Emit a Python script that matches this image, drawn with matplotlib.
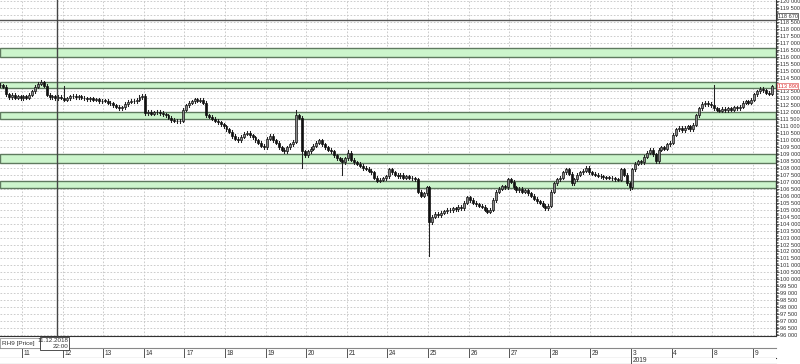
import matplotlib
matplotlib.use("Agg")
import matplotlib.pyplot as plt
from matplotlib.patches import Rectangle
from matplotlib.ticker import MultipleLocator, FuncFormatter

plt.rcParams["font.family"] = ["Liberation Sans", "DejaVu Sans"]

# sessions shown on the chart (10 Dec and 9 Jan are cut by the edges)
days = ["10", "11", "12", "13", "14", "17", "18", "19", "20", "21", "24",
        "25", "26", "27", "28", "29", "3", "4", "8", "9"]

# hourly closes of RH9
c10 = [113950, 113850, 113300, 113100, 113250, 113050, 113150, 113000]
c11 = [113150, 113050, 113250, 113500, 113850, 114050, 114150, 113900, 113250, 113100, 113150, 113000, 113100, 113050]
c12 = [112900, 113000, 113150, 113200, 113100, 113150, 113050, 113000, 112950, 113000, 112900, 112950, 112800, 112850]
c13 = [112850, 112700, 112650, 112500, 112400, 112300, 112350, 112600, 112750, 112850, 112800, 112900, 113100, 113200]
c14 = [111950, 112050, 111900, 112000, 112050, 111950, 111850, 111800, 111600, 111450, 111400, 111350, 111400, 112200]
c17 = [112500, 112700, 112800, 112950, 112850, 112900, 112700, 111800, 111700, 111550, 111400, 111300, 111150, 111000]
c18 = [110800, 110600, 110300, 110100, 110000, 110250, 110450, 110550, 110350, 110200, 110000, 109800, 109600, 109500]
c19 = [110100, 110300, 110000, 109800, 109500, 109300, 109200, 109500, 109700, 109900, 111800, 111600, 109200, 108900]
c20 = [109200, 109400, 109600, 109800, 110000, 109700, 109500, 109300, 109200, 108900, 108700, 108600, 108400, 108700]
c21 = [109100, 108600, 108400, 108300, 108150, 108000, 107950, 107800, 107700, 107300, 107100, 107150, 107250, 107400]
c24 = [107900, 107700, 107500, 107400, 107500, 107300, 107400, 107300, 107250, 107200, 106300, 106000, 106200, 106600]
c25 = [104100, 104500, 104700, 104600, 104800, 104900, 105000, 104950, 105100, 105050, 105200, 105100, 105500, 105900]
c26 = [105700, 105500, 105400, 105300, 105200, 105000, 104850, 105000, 105700, 106300, 106500, 106700, 106600, 107200]
c27 = [107000, 106600, 106400, 106500, 106300, 106400, 106200, 106000, 105800, 105600, 105500, 105300, 105100, 105300]
c28 = [106300, 106900, 107200, 107300, 107700, 107900, 107600, 106900, 107200, 107500, 107700, 107800, 108000, 107700]
c29 = [107600, 107500, 107450, 107400, 107350, 107300, 107300, 107250, 107200, 107150, 107900, 107500, 106900, 106600]
c03 = [107900, 108300, 108500, 108400, 108800, 109100, 109300, 109000, 108500, 109300, 109500, 109400, 109700, 109800]
c04 = [110400, 110800, 110900, 110700, 110900, 111000, 110800, 111100, 111800, 112300, 112600, 112700, 112600, 112500]
c08 = [112300, 112200, 112100, 112250, 112150, 112300, 112200, 112350, 112300, 112400, 112700, 112800, 112700, 112900]
c09 = [113300, 113500, 113700, 113600, 113400, 113350, 113890]
first_open = 114000

# long wicks (day, bar in day) -> (high, low), None = ordinary
spikes = {("11", 6): (114350, None), ("12", 0): (113900, None),
          ("19", 10): (112150, None), ("19", 12): (None, 108000),
          ("20", 12): (None, 107500), ("21", 0): (109300, None),
          ("25", 0): (None, 101700), ("29", 13): (None, 106400),
          ("8", 0): (113950, None)}

# support / resistance zones and a level line
zones = [(116000, 116600), (113750, 114200), (111550, 112050),
         (108350, 109000), (106550, 107050)]
level = 118670
last_price = 113890
hidden_labels = [119000, 114000]   # covered by the boxed price labels

closes = [c10, c11, c12, c13, c14, c17, c18, c19, c20, c21, c24,
          c25, c26, c27, c28, c29, c03, c04, c08, c09]

W, H = 800, 364
fig = plt.figure(figsize=(8, 3.64), dpi=100)
fig.patch.set_facecolor("white")

ax = fig.add_axes([0, 28 / H, 776 / W, 336 / H])
ax.set_xlim(0.41, 268.0)
ax.set_ylim(95928, 120072)

# grid
for p in range(96000, 120001, 500):
    ax.axhline(p, color="#c4c4c4", lw=0.6, ls=(0, (2, 2)), zorder=0)

starts = []
pos = 0
for d, cl in zip(days, closes):
    starts.append(pos)
    pos += len(cl)
for s in starts[1:]:
    ax.axvline(s, color="#c4c4c4", lw=0.6, ls=(0, (2, 2)), zorder=0)

for lo, hi in zones:
    ax.axhspan(lo, hi, facecolor="#ccf5cc", edgecolor="#5f7a5f", lw=1.0, zorder=1)
ax.axhline(level, color="#555555", lw=1.0, zorder=1)

# candles
prev = first_open
for d, s, cl in zip(days, starts, closes):
    for i, c in enumerate(cl):
        o = prev
        x = s + i + 0.5
        hi = max(o, c) + 110
        lo = min(o, c) - 110
        sp = spikes.get((d, i))
        if sp:
            if sp[0]:
                hi = sp[0]
            if sp[1]:
                lo = sp[1]
        ax.plot([x, x], [lo, hi], color="#222222", lw=0.75, zorder=3)
        body = max(abs(c - o), 50)
        fc = "#8a8a8a" if c > o else "#111111"
        ax.add_patch(Rectangle((x - 0.33, min(o, c)), 0.66, body, facecolor=fc,
                               edgecolor="#111111", lw=0.5, zorder=4))
        prev = c

# crosshair at 11.12.2018 22:00
ax.plot([20, 20], [120072, 95000], color="#444444", lw=1.0, zorder=5, clip_on=False)

# right price scale
def price_label(v, _):
    if int(round(v)) in hidden_labels:
        return ""
    return f"{int(round(v)):,}".replace(",", " ")

ax.yaxis.tick_right()
ax.yaxis.set_major_locator(MultipleLocator(500))
ax.yaxis.set_minor_locator(MultipleLocator(100))
ax.yaxis.set_major_formatter(FuncFormatter(price_label))
ax.tick_params(axis="y", which="major", length=2.5, width=0.6, labelsize=4.1,
               pad=0.6, colors="#333333")
ax.tick_params(axis="y", which="minor", length=1.3, width=0.5, colors="#333333")
ax.set_xticks([])
for sp_name in ["top", "left"]:
    ax.spines[sp_name].set_visible(False)
ax.spines["right"].set_color("#333333")
ax.spines["bottom"].set_color("#333333")
ax.spines["right"].set_linewidth(0.8)

ax.annotate(f"{last_price:,}".replace(",", " "), xy=(1.0, last_price),
            xycoords=("axes fraction", "data"), xytext=(1.2, 0),
            textcoords="offset points", fontsize=4.1, color="#e03030",
            va="center", ha="left", annotation_clip=False, zorder=10,
            bbox=dict(boxstyle="square,pad=0.1", fc="white", ec="#e06060", lw=0.5))
ax.annotate(f"{level:,}".replace(",", " "), xy=(1.0, level),
            xycoords=("axes fraction", "data"), xytext=(1.2, 2.5),
            textcoords="offset points", fontsize=4.1, color="#333333",
            va="center", ha="left", annotation_clip=False, zorder=10,
            bbox=dict(boxstyle="square,pad=0.1", fc="white", ec="#333333", lw=0.5))

# date row
dax = fig.add_axes([0, 6 / H, 776 / W, 10 / H])
dax.set_xlim(ax.get_xlim())
dax.set_ylim(0, 1)
dax.set_xticks([])
dax.set_yticks([])
for sp_name in ["left", "right"]:
    dax.spines[sp_name].set_visible(False)
dax.spines["top"].set_color("#888888")
dax.spines["bottom"].set_color("#333333")
for d, s in zip(days[1:], starts[1:]):
    dax.plot([s, s], [0, 1], color="#555555", lw=0.7)
    dax.text(s + 0.6, 0.45, d, fontsize=4.8, va="center", ha="left", color="#333333")

# year row
yax = fig.add_axes([0, 0.5 / H, 776 / W, 5.5 / H])
yax.set_xlim(ax.get_xlim())
yax.set_ylim(0, 1)
yax.set_xticks([])
yax.set_yticks([])
for sp_name in ["left", "right", "top"]:
    yax.spines[sp_name].set_visible(False)
yax.spines["bottom"].set_color("#333333")
jan3 = starts[days.index("3")]
yax.plot([jan3, jan3], [0, 1], color="#555555", lw=0.7)
yax.text(jan3 + 0.6, 0.5, "2019", fontsize=4.8, va="center", ha="left", color="#333333")

# instrument and crosshair label boxes
ov = fig.add_axes([0, 0, 1, 1], zorder=20)
ov.set_xlim(0, W)
ov.set_ylim(H, 0)
ov.axis("off")
ov.add_patch(Rectangle((0, 338), 40, 10, facecolor="white", edgecolor="#888888", lw=0.5))
ov.text(1.5, 343, "RH9 [Price]", fontsize=4.6, va="center", ha="left", color="#333333")
ov.add_patch(Rectangle((40, 336.5), 29, 13, facecolor="white", edgecolor="#333333", lw=0.6))
ov.text(68, 340, "11.12.2018", fontsize=4.5, va="center", ha="right", color="#333333")
ov.text(68, 346.5, "22:00", fontsize=4.5, va="center", ha="right", color="#333333")

fig.savefig("out.png", dpi=100)
